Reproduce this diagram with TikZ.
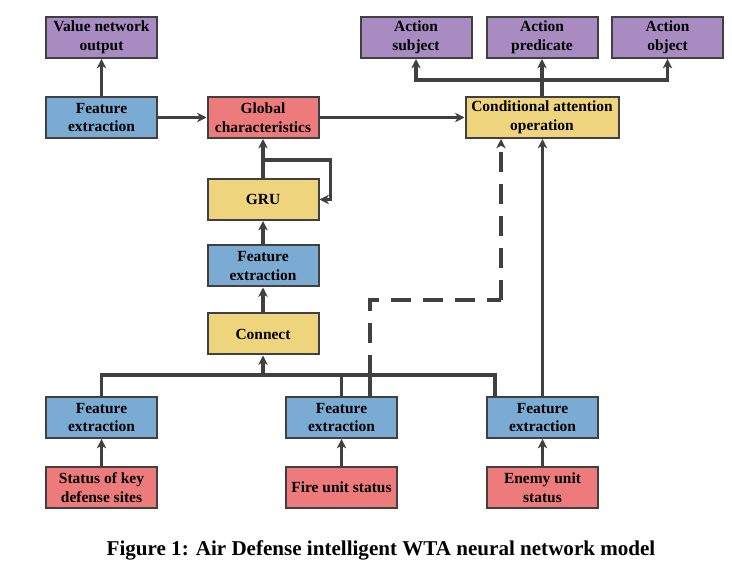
\documentclass[tikz,border=0pt]{standalone}
\usepackage{fontspec}
\setmainfont{Liberation Serif}
\usetikzlibrary{arrows.meta}
\definecolor{cpurple}{HTML}{A88BC1}
\definecolor{cblue}{HTML}{7BAAD2}
\definecolor{cred}{HTML}{EE7B7B}
\definecolor{cyellow}{HTML}{EFD47E}
\definecolor{cline}{HTML}{404040}
\tikzset{
  box/.style={draw=cline, line width=1.5pt, minimum width=83.25pt, minimum height=30.75pt,
    inner sep=0pt, align=center, font=\fontsize{11.6}{14.2}\selectfont\bfseries},
  pbox/.style={box, fill=cpurple},
  bbox/.style={box, fill=cblue},
  rbox/.style={box, fill=cred},
  ybox/.style={box, fill=cyellow},
  conn/.style={draw=cline, line width=2.4pt},
  arr/.style={conn, -{Stealth[length=7pt,width=7pt,inset=2pt]}},
  dashline/.style={conn, dash pattern=on 15pt off 9pt},
}
\begin{document}
\begin{tikzpicture}[x=0.75pt,y=-0.75pt]
\useasboundingbox (0,0) rectangle (732,584);
% top row
\node[pbox] (vno) at (101.5,37.5) {Value network\\output};
\node[pbox] (as) at (416,37.5) {Action\\subject};
\node[pbox] (ap) at (542,37.5) {Action\\predicate};
\node[pbox] (ao) at (667.5,37.5) {Action\\object};
% second row
\node[bbox] (fe1) at (101.5,117.5) {Feature\\extraction};
\node[rbox] (gc) at (263,117.5) {Global\\characteristics};
\node[ybox, minimum width=114.75pt] (cao) at (542,117.5) {Conditional attention\\operation};
% middle column
\node[ybox] (gru) at (263,199.5) {GRU};
\node[bbox] (fe2) at (263,266) {Feature\\extraction};
\node[ybox] (con) at (263,334) {Connect};
% bottom rows
\node[bbox] (fe3) at (101.5,417.5) {Feature\\extraction};
\node[bbox] (fe4) at (341.5,417.5) {Feature\\extraction};
\node[bbox] (fe5) at (542.5,417.5) {Feature\\extraction};
\node[rbox] (s1) at (101.5,487.5) {Status of key\\defense sites};
\node[rbox] (s2) at (341.5,487.5) {Fire unit status};
\node[rbox] (s3) at (542.5,487.5) {Enemy unit\\status};
% caption
\node[font=\fontsize{15.8}{18}\selectfont\bfseries] (cap) at (381,550) {Figure 1: Air Defense intelligent WTA neural network model};

% coordinates
\coordinate (br) at (542,80);
\coordinate (lp) at (263,160);
\coordinate (bus) at (263,375);
\coordinate (busL) at (101.5,375);
\coordinate (busR) at (495,375);
\coordinate (dsA) at (370,300);
\coordinate (dsB) at (501,300);
\coordinate (dot) at (370,375);

% connectors
\draw[arr] (fe1.north) -- (vno.south);
\draw[arr] (fe1.east) -- (gc.west);
\draw[arr] (gc.east) -- (cao.west);
\draw[arr] (cao.north) -- (ap.south);
\draw[arr] (br) -| (as.south);
\draw[arr] (br) -| (ao.south);
\draw[arr] (gru.north) -- (gc.south);
\draw[arr] (lp) -| ([xshift=8pt]gru.east) -- (gru.east);
\draw[arr] (fe2.north) -- (gru.south);
\draw[arr] (con.north) -- (fe2.south);
\draw[conn] (fe3.north) -- (busL) -- (busR) -- (busR |- fe5.north);
\draw[arr] (bus) -- (con.south);
\draw[conn] (fe4.north) -- (fe4.north |- bus);
\draw[arr] (fe5.north) -- (fe5.north |- cao.south);
\draw[conn] (dot |- fe4.north) -- (dot);
\draw[dashline] (dot) -- (dsA) -- (dsB);
\draw[dashline, -{Stealth[length=7pt,width=7pt,inset=2pt]}] (dsB) -- (dsB |- cao.south);
\fill[cline] (dot) circle (2.2pt);
\draw[arr] (s1.north) -- (fe3.south);
\draw[arr] (s2.north) -- (fe4.south);
\draw[arr] (s3.north) -- (fe5.south);
\end{tikzpicture}
\end{document}
